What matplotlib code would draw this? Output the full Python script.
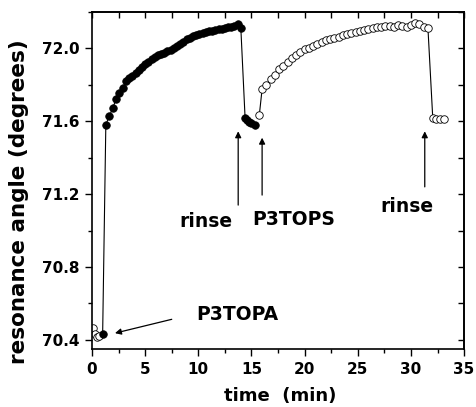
import matplotlib
matplotlib.use("Agg")
import matplotlib.pyplot as plt
from matplotlib.ticker import MultipleLocator

plt.rcParams['font.family'] = ['DejaVu Sans']
plt.rcParams['font.weight'] = 'bold'

# baseline (open circles before injection)
base_t = [0.07, 0.30, 0.47, 0.70]
base_v = [70.466, 70.433, 70.418, 70.420]

# P3TOPA adsorption (filled circles)
topa_t = [1.00, 1.30, 1.63, 1.95, 2.26, 2.58, 2.92, 3.23, 3.50, 3.80, 4.10, 4.40, 4.70,
          5.00, 5.30, 5.60, 5.90, 6.20, 6.50, 6.80, 7.10, 7.40, 7.70, 8.00, 8.30,
          8.60, 8.90, 9.20, 9.50, 9.80, 10.10, 10.40, 10.70, 11.00, 11.30, 11.60,
          11.90, 12.20, 12.50, 12.80, 13.10, 13.40, 13.70, 14.00, 14.40, 14.60,
          14.80, 15.00, 15.30]
topa_v = [70.431, 71.582, 71.628, 71.673, 71.720, 71.755, 71.782, 71.820, 71.835, 71.848,
          71.865, 71.880, 71.900, 71.912, 71.927, 71.940, 71.952, 71.962, 71.970,
          71.977, 71.985, 71.992, 72.002, 72.015, 72.025, 72.037, 72.050, 72.060,
          72.067, 72.073, 72.080, 72.085, 72.090, 72.095, 72.098, 72.102, 72.105,
          72.108, 72.112, 72.117, 72.120, 72.125, 72.133, 72.110, 71.617, 71.605,
          71.595, 71.588, 71.578]

# P3TOPS adsorption (open circles)
tops_t = [15.74, 16.00, 16.40, 16.80, 17.20, 17.60, 18.00, 18.40, 18.80, 19.20, 19.60,
          20.00, 20.40, 20.80, 21.20, 21.60, 22.00, 22.40, 22.80, 23.20, 23.60, 24.00,
          24.40, 24.80, 25.20, 25.60, 26.00, 26.40, 26.80, 27.20, 27.60, 28.00, 28.40,
          28.80, 29.20, 29.60, 30.00, 30.40, 30.80, 31.20, 31.60, 32.05, 32.40, 32.75,
          33.10]
tops_v = [71.636, 71.777, 71.800, 71.830, 71.855, 71.885, 71.905, 71.925, 71.945, 71.963,
          71.980, 71.995, 72.005, 72.015, 72.025, 72.035, 72.045, 72.050, 72.060,
          72.065, 72.075, 72.080, 72.085, 72.090, 72.095, 72.100, 72.105, 72.110,
          72.120, 72.115, 72.122, 72.125, 72.120, 72.128, 72.125, 72.118, 72.130,
          72.140, 72.135, 72.120, 72.110, 71.620, 71.613, 71.613, 71.615]

x_ticks = [0, 5, 10, 15, 20, 25, 30, 35]
y_ticks = [70.4, 70.8, 71.2, 71.6, 72.0]

fig = plt.figure(figsize=(4.76, 4.07), dpi=100)
ax = fig.add_axes([0.1933, 0.1425, 0.7817, 0.828])

mk = 5.4
ax.plot(base_t, base_v, '-', color='black', lw=0.8, marker='o', ms=mk,
        mfc='white', mec='black', mew=0.6)
ax.plot(topa_t, topa_v, '-', color='black', lw=0.8, marker='o', ms=mk,
        mfc='black', mec='black', mew=0.6)
ax.plot(tops_t, tops_v, '-', color='black', lw=0.8, marker='o', ms=mk,
        mfc='white', mec='black', mew=0.6)

ax.set_xlim(0, 35)
ax.set_ylim(70.35, 72.2)
ax.set_xticks(x_ticks)
ax.set_yticks(y_ticks)
ax.set_xticklabels([str(v) for v in x_ticks])
ax.set_yticklabels([f"{v:.1f}" for v in y_ticks])
ax.xaxis.set_minor_locator(MultipleLocator(2.5))
ax.yaxis.set_minor_locator(MultipleLocator(0.2))
ax.tick_params(which='major', direction='out', length=5, width=1, labelsize=11, pad=4)
ax.tick_params(which='minor', direction='out', length=3, width=1)

secx = ax.secondary_xaxis('top')
secx.set_xticks([2.5 * i for i in range(15)])
secx.tick_params(direction='in', length=4, width=1, labeltop=False)
secx.set_xticklabels([])
secy = ax.secondary_yaxis('right')
secy.set_yticks([70.4 + 0.2 * i for i in range(10)])
secy.tick_params(direction='in', length=4, width=1, labelright=False)
secy.set_yticklabels([])

for s in ax.spines.values():
    s.set_linewidth(1.2)
for s in secx.spines.values():
    s.set_linewidth(1.2)
for s in secy.spines.values():
    s.set_linewidth(1.2)

ax.set_xlabel('time  (min)', fontsize=13, fontweight='bold')
ax.xaxis.set_label_coords(0.506, -0.112)
ax.set_ylabel('resonance angle (degrees)', fontsize=15.5, fontweight='bold')
ax.yaxis.set_label_coords(-0.168, 0.436)

arrow = dict(arrowstyle='-|>', color='black', lw=0.9, mutation_scale=9, shrinkA=0, shrinkB=0)
ax.annotate('', xy=(2.16, 70.437), xytext=(7.5, 70.513), arrowprops=arrow)
ax.annotate('', xy=(13.75, 71.545), xytext=(13.75, 71.14), arrowprops=arrow)
ax.annotate('', xy=(16.0, 71.51), xytext=(16.0, 71.195), arrowprops=arrow)
ax.annotate('', xy=(31.3, 71.545), xytext=(31.3, 71.24), arrowprops=arrow)

ax.text(13.64, 70.54, 'P3TOPA', fontsize=13.5, fontweight='bold', ha='center', va='center')
ax.text(10.7, 71.05, 'rinse', fontsize=13.5, fontweight='bold', ha='center', va='center')
ax.text(19.0, 71.06, 'P3TOPS', fontsize=13.5, fontweight='bold', ha='center', va='center')
ax.text(29.6, 71.13, 'rinse', fontsize=13.5, fontweight='bold', ha='center', va='center')

fig.savefig('out.png', dpi=100)
